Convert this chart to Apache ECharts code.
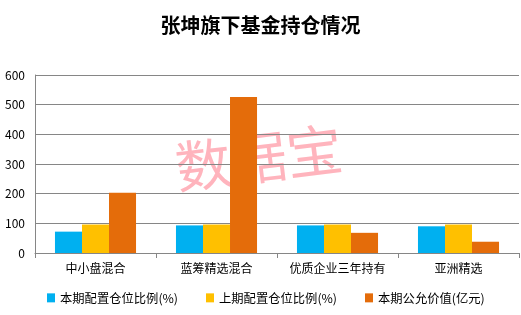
<!DOCTYPE html>
<html><head><meta charset="utf-8">
<script src="https://cdn.jsdelivr.net/npm/echarts@6/dist/echarts.min.js"></script>
<style>html,body{margin:0;padding:0;background:#fff}#c{width:521px;height:315px}</style>
</head><body><div id="c"></div>
<script>
const categories = ['中小盘混合', '蓝筹精选混合', '优质企业三年持有', '亚洲精选'];
const seriesNames = ['本期配置仓位比例(%)', '上期配置仓位比例(%)', '本期公允价值(亿元)'];
const currentRatio = [72, 93, 93, 90];
const previousRatio = [96, 96, 96, 96];
const fairValue = [203, 526, 68, 38];
const yTicks = [0, 100, 200, 300, 400, 500, 600];

const font = '"Noto Sans CJK SC", "Noto Sans", sans-serif';
const colors = ['#00B0F0', '#FFC000', '#E46C0A'];
const chart = echarts.init(document.getElementById('c'), null, {renderer: 'canvas'});
chart.setOption({
  animation: false,
  color: colors,
  title: {
    text: '张坤旗下基金持仓情况', left: 'center', top: 10,
    textStyle: {fontFamily: font, fontSize: 20, fontWeight: 'bold', color: '#000'}
  },
  legend: {
    bottom: 6, left: 42, itemWidth: 8, itemHeight: 9, itemGap: 28,
    icon: 'rect',
    textStyle: {fontFamily: font, fontSize: 12.3, color: '#000'},
    data: seriesNames
  },
  grid: {left: 35, right: 2, top: 75, bottom: 62, containLabel: false},
  xAxis: {
    type: 'category', data: categories,
    axisLine: {lineStyle: {color: '#868686'}},
    axisTick: {show: true, length: 5, lineStyle: {color: '#868686'}},
    axisLabel: {fontFamily: font, fontSize: 12, color: '#000', margin: 9, interval: 0}
  },
  yAxis: {
    type: 'value', min: yTicks[0], max: yTicks[yTicks.length - 1], interval: 100,
    axisLine: {show: true, lineStyle: {color: '#868686'}},
    axisTick: {show: false},
    splitLine: {lineStyle: {color: '#868686'}},
    axisLabel: {fontFamily: font, fontSize: 12, color: '#000', margin: 10}
  },
  graphic: [{
    type: 'text', x: 172, y: 140, rotation: 0.12,
    style: {text: '数据宝', font: '56px "Noto Sans CJK SC"', fill: 'rgba(255,130,145,0.6)'}
  }],
  series: [
    {name: seriesNames[0], type: 'bar', data: currentRatio, barGap: '0%', barCategoryGap: '33%'},
    {name: seriesNames[1], type: 'bar', data: previousRatio, barGap: '0%', barCategoryGap: '33%'},
    {name: seriesNames[2], type: 'bar', data: fairValue, barGap: '0%', barCategoryGap: '33%'}
  ]
});
</script></body></html>
